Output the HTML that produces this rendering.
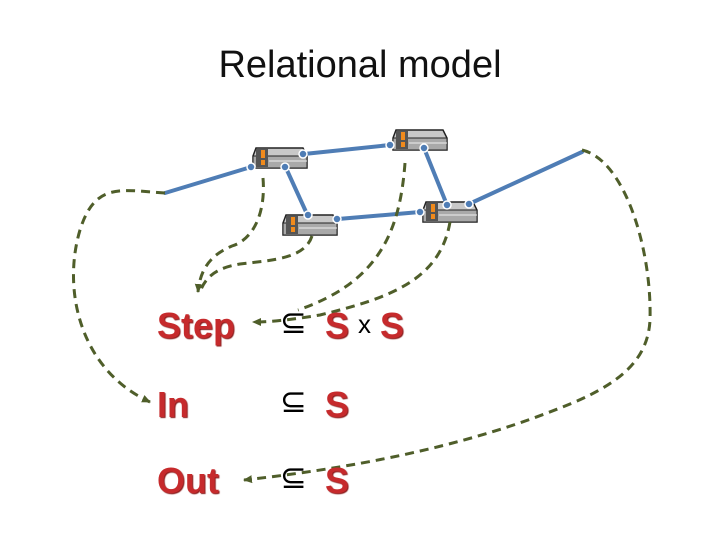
<!DOCTYPE html>
<html><head><meta charset="utf-8"><style>
html,body{margin:0;padding:0;background:#fff;}
.w{position:relative;width:720px;height:540px;overflow:hidden;font-family:"Liberation Sans",sans-serif;}
.t{position:absolute;top:44px;left:0;width:720px;text-align:center;font-size:38px;color:#111;font-family:"Liberation Sans Narrow","Liberation Sans",sans-serif;}
.r{position:absolute;font-weight:bold;color:#c62a2c;font-size:36px;text-shadow:1px 1px 1px #8a1a1a;}
.k{position:absolute;font-size:32px;color:#000;}
</style></head><body><div class="w">
<div class="t">Relational model</div>
<svg width="720" height="540" style="position:absolute;left:0;top:0">
<defs>
<marker id="ar" markerUnits="userSpaceOnUse" markerWidth="10" markerHeight="10" refX="8" refY="5" orient="auto"><path d="M0,1 L9,5 L0,9 z" fill="#4f5e2a"/></marker>
<g id="n">
<path d="M3,0 L50,0 L54,8 L54,20 L0,20 L0,8 Z" fill="#c8c8c8" stroke="#222" stroke-width="1.5"/>
<rect x="0" y="8" width="54" height="12" fill="#a9a9a9" stroke="#222" stroke-width="1"/>
<rect x="3" y="1" width="12" height="18" fill="#555"/>
<rect x="8" y="2" width="4" height="8" fill="#f08a1c"/>
<rect x="8" y="12" width="4" height="5" fill="#f08a1c"/>
<line x1="16" y1="13" x2="54" y2="13" stroke="#eee" stroke-width="1"/>
</g>
</defs>
<use href="#n" x="253" y="148"/>
<use href="#n" x="393" y="130"/>
<use href="#n" x="283" y="215"/>
<use href="#n" x="423" y="202"/>
<g stroke="#4f7db5" stroke-width="4" stroke-linecap="round" fill="none">
<line x1="165" y1="193" x2="251" y2="167"/>
<line x1="304" y1="154" x2="390" y2="145"/>
<line x1="286" y1="168" x2="307" y2="214"/>
<line x1="424" y1="148" x2="447" y2="205"/>
<line x1="338" y1="219" x2="420" y2="212"/>
<line x1="469" y1="204" x2="582" y2="152"/>
</g>
<g fill="#4f7db5" stroke="#fff" stroke-width="1.5">
<circle cx="251" cy="167" r="4"/><circle cx="303" cy="154" r="4"/><circle cx="285" cy="167" r="4"/>
<circle cx="390" cy="145" r="4"/><circle cx="424" cy="148" r="4"/>
<circle cx="308" cy="215" r="4"/><circle cx="337" cy="219" r="4"/>
<circle cx="420" cy="212" r="4"/><circle cx="447" cy="205" r="4"/><circle cx="469" cy="204" r="4"/>
</g>
<g stroke="#4f5e2a" stroke-width="3" stroke-dasharray="9,6" fill="none">
<path d="M165,193 C120,190 95,182 80,230 C62,290 80,370 150,402" marker-end="url(#ar)"/>
<path d="M263,178 C266,215 252,240 232,246 C210,255 200,270 198,292" marker-end="url(#ar)"/>
<path d="M312,236 C305,258 275,260 240,264 C215,268 205,278 200,292"/>
<path d="M405,163 C400,230 380,282 298,310"/>
<path d="M450,222 C440,280 390,298 320,315 C290,320 270,322 253,322" marker-end="url(#ar)"/>
<path d="M582,150 C625,160 652,250 650,320 C648,360 620,385 560,408 C480,440 380,465 244,480" marker-end="url(#ar)"/>
</g>
</svg>
<div class="r" style="left:157px;top:305px">Step</div>
<div class="k" style="left:280px;top:303px">⊆</div>
<div class="r" style="left:325px;top:305px">S</div>
<div class="k" style="left:358px;top:309px;font-size:26px">x</div>
<div class="r" style="left:380px;top:305px">S</div>
<div class="r" style="left:157px;top:384px">In</div>
<div class="k" style="left:280px;top:382px">⊆</div>
<div class="r" style="left:325px;top:384px">S</div>
<div class="r" style="left:157px;top:460px">Out</div>
<div class="k" style="left:280px;top:458px">⊆</div>
<div class="r" style="left:325px;top:460px">S</div>
</div></body></html>
